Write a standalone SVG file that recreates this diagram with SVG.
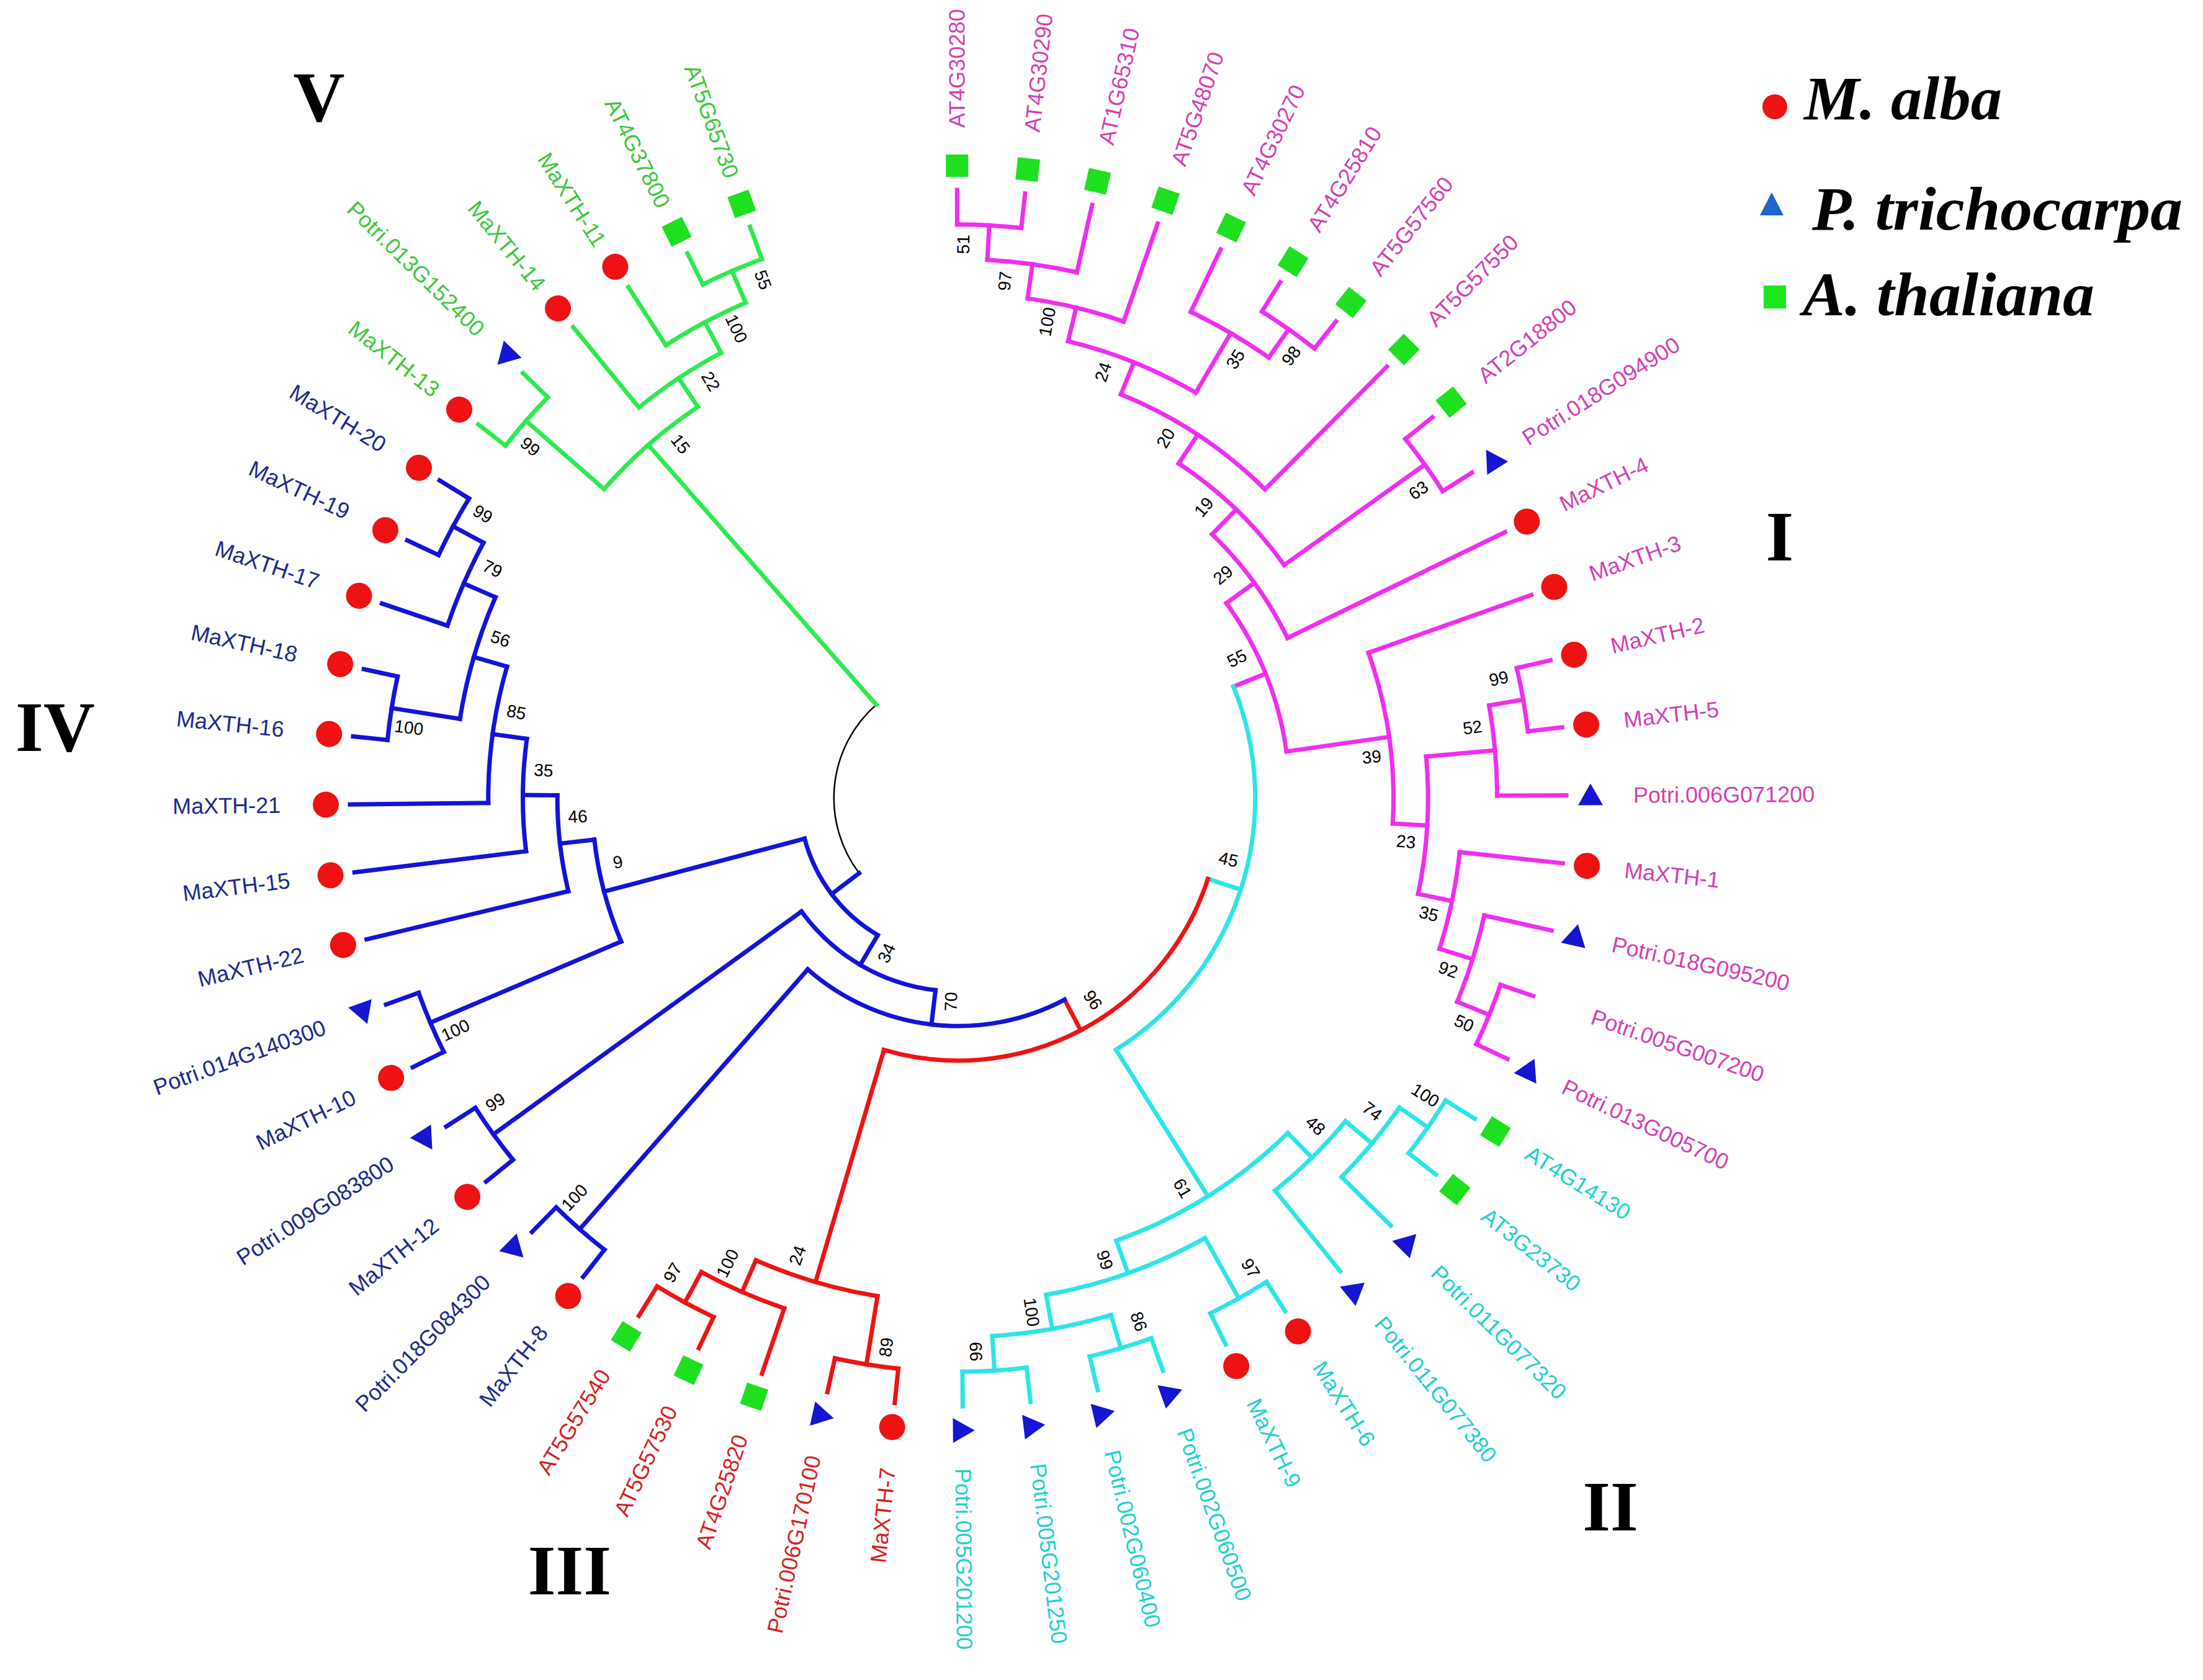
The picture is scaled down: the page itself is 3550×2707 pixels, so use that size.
<svg xmlns="http://www.w3.org/2000/svg" width="3550" height="2707" viewBox="0 0 3550 2707">
<style>
.br{fill:none;stroke-width:7;stroke-linecap:square}
.rt{fill:none;stroke:#000;stroke-width:2.5}
.sI{stroke:#F02EF0}.sII{stroke:#2EE5E5}.sIII{stroke:#EE1414}.sIV{stroke:#1313D9}.sV{stroke:#2EEA50}
.tl{font-family:"Liberation Sans",Arial,sans-serif;font-size:36px;dominant-baseline:central}
.r{text-anchor:end}
.cI{fill:#D43FB0}.cII{fill:#1FCFCF}.cIII{fill:#D61F1F}.cIV{fill:#1C2A8C}.cV{fill:#3CC83C}
.ci{fill:#EE1212}.tr{fill:#1515D2}.sq{fill:#1EE01E}
.bs{font-family:"Liberation Sans",Arial,sans-serif;font-size:28px;fill:#000;text-anchor:middle;dominant-baseline:central}
.rn{font-family:"Liberation Serif","Times New Roman",serif;font-weight:bold;font-size:115px;fill:#000;text-anchor:middle}
.lg{font-family:"Liberation Serif","Times New Roman",serif;font-weight:bold;font-style:italic;font-size:100px;fill:#000}
</style>
<rect width="3550" height="2707" fill="#fff"/>
<g id="tree" transform="translate(1544,1286)">
<g id="connectors">
<circle class="rt" r="200.2" stroke-dasharray="300.19 9999" transform="rotate(142.82)"/>
<g class="br sI">
<line x1="924.3" x2="980" transform="rotate(-90.10)"/>
<line x1="924.3" x2="980" transform="rotate(-83.68)"/>
<line x1="868.6" x2="980" transform="rotate(-77.27)"/>
<line x1="812.9" x2="980" transform="rotate(-70.85)"/>
<line x1="868.6" x2="980" transform="rotate(-64.43)"/>
<line x1="924.3" x2="980" transform="rotate(-58.02)"/>
<line x1="924.3" x2="980" transform="rotate(-51.60)"/>
<line x1="701.5" x2="980" transform="rotate(-45.18)"/>
<line x1="924.3" x2="980" transform="rotate(-38.76)"/>
<line x1="924.3" x2="980" transform="rotate(-32.35)"/>
<line x1="590.1" x2="980" transform="rotate(-25.93)"/>
<line x1="701.5" x2="980" transform="rotate(-19.51)"/>
<line x1="924.3" x2="980" transform="rotate(-13.10)"/>
<line x1="924.3" x2="980" transform="rotate(-6.68)"/>
<line x1="868.6" x2="980" transform="rotate(-0.26)"/>
<line x1="812.9" x2="980" transform="rotate(6.15)"/>
<line x1="868.6" x2="980" transform="rotate(12.57)"/>
<line x1="924.3" x2="980" transform="rotate(18.99)"/>
<line x1="924.3" x2="980" transform="rotate(25.40)"/>
<line x1="868.6" x2="924.3" transform="rotate(-86.89)"/>
<line x1="812.9" x2="868.6" transform="rotate(-82.08)"/>
<line x1="757.2" x2="812.9" transform="rotate(-76.465)"/>
<line x1="868.6" x2="924.3" transform="rotate(-54.81)"/>
<line x1="757.2" x2="868.6" transform="rotate(-59.62)"/>
<line x1="701.5" x2="757.2" transform="rotate(-68.04)"/>
<line x1="645.8" x2="701.5" transform="rotate(-56.61)"/>
<line x1="645.8" x2="924.3" transform="rotate(-35.555)"/>
<line x1="590.1" x2="645.8" transform="rotate(-46.08)"/>
<line x1="534.4" x2="590.1" transform="rotate(-36.005)"/>
<line x1="868.6" x2="924.3" transform="rotate(-9.89)"/>
<line x1="757.2" x2="868.6" transform="rotate(-5.075)"/>
<line x1="868.6" x2="924.3" transform="rotate(22.195)"/>
<line x1="812.9" x2="868.6" transform="rotate(17.38)"/>
<line x1="757.2" x2="812.9" transform="rotate(11.765)"/>
<line x1="701.5" x2="757.2" transform="rotate(3.345)"/>
<line x1="534.4" x2="701.5" transform="rotate(-8.08)"/>
<line x1="478.7" x2="534.4" transform="rotate(-22.04)"/>
<circle r="924.3" stroke-dasharray="103.57 9999" transform="rotate(-90.10)"/>
<circle r="868.6" stroke-dasharray="145.84 9999" transform="rotate(-86.89)"/>
<circle r="812.9" stroke-dasharray="159.33 9999" transform="rotate(-82.08)"/>
<circle r="924.3" stroke-dasharray="103.57 9999" transform="rotate(-58.02)"/>
<circle r="868.6" stroke-dasharray="145.84 9999" transform="rotate(-64.43)"/>
<circle r="757.2" stroke-dasharray="222.62 9999" transform="rotate(-76.465)"/>
<circle r="701.5" stroke-dasharray="279.87 9999" transform="rotate(-68.04)"/>
<circle r="924.3" stroke-dasharray="103.41 9999" transform="rotate(-38.76)"/>
<circle r="645.8" stroke-dasharray="237.31 9999" transform="rotate(-56.61)"/>
<circle r="590.1" stroke-dasharray="207.52 9999" transform="rotate(-46.08)"/>
<circle r="924.3" stroke-dasharray="103.57 9999" transform="rotate(-13.10)"/>
<circle r="868.6" stroke-dasharray="145.99 9999" transform="rotate(-9.89)"/>
<circle r="924.3" stroke-dasharray="103.41 9999" transform="rotate(18.99)"/>
<circle r="868.6" stroke-dasharray="145.92 9999" transform="rotate(12.57)"/>
<circle r="812.9" stroke-dasharray="159.33 9999" transform="rotate(6.15)"/>
<circle r="757.2" stroke-dasharray="222.56 9999" transform="rotate(-5.075)"/>
<circle r="701.5" stroke-dasharray="279.81 9999" transform="rotate(-19.51)"/>
<circle r="534.4" stroke-dasharray="260.46 9999" transform="rotate(-36.005)"/>
</g>
<g class="br sII">
<line x1="924.3" x2="980" transform="rotate(31.82)"/>
<line x1="924.3" x2="980" transform="rotate(38.24)"/>
<line x1="868.6" x2="980" transform="rotate(44.65)"/>
<line x1="812.9" x2="980" transform="rotate(51.07)"/>
<line x1="924.3" x2="980" transform="rotate(57.49)"/>
<line x1="924.3" x2="980" transform="rotate(63.91)"/>
<line x1="924.3" x2="980" transform="rotate(70.32)"/>
<line x1="924.3" x2="980" transform="rotate(76.74)"/>
<line x1="924.3" x2="980" transform="rotate(83.16)"/>
<line x1="924.3" x2="980" transform="rotate(89.57)"/>
<line x1="868.6" x2="924.3" transform="rotate(35.03)"/>
<line x1="812.9" x2="868.6" transform="rotate(39.84)"/>
<line x1="757.2" x2="812.9" transform="rotate(45.455)"/>
<line x1="812.9" x2="924.3" transform="rotate(60.70)"/>
<line x1="868.6" x2="924.3" transform="rotate(73.53)"/>
<line x1="868.6" x2="924.3" transform="rotate(86.365)"/>
<line x1="812.9" x2="868.6" transform="rotate(79.95)"/>
<line x1="757.2" x2="812.9" transform="rotate(70.325)"/>
<line x1="478.7" x2="757.2" transform="rotate(57.89)"/>
<line x1="423" x2="478.7" transform="rotate(17.925)"/>
<circle r="924.3" stroke-dasharray="103.57 9999" transform="rotate(31.82)"/>
<circle r="868.6" stroke-dasharray="145.84 9999" transform="rotate(35.03)"/>
<circle r="812.9" stroke-dasharray="159.33 9999" transform="rotate(39.84)"/>
<circle r="924.3" stroke-dasharray="103.57 9999" transform="rotate(57.49)"/>
<circle r="924.3" stroke-dasharray="103.57 9999" transform="rotate(70.32)"/>
<circle r="924.3" stroke-dasharray="103.41 9999" transform="rotate(83.16)"/>
<circle r="868.6" stroke-dasharray="194.58 9999" transform="rotate(73.53)"/>
<circle r="812.9" stroke-dasharray="273.12 9999" transform="rotate(60.70)"/>
<circle r="757.2" stroke-dasharray="328.68 9999" transform="rotate(45.455)"/>
<circle r="478.7" stroke-dasharray="667.81 9999" transform="rotate(-22.04)"/>
</g>
<g class="br sIII">
<line x1="924.3" x2="980" transform="rotate(95.99)"/>
<line x1="924.3" x2="980" transform="rotate(102.41)"/>
<line x1="868.6" x2="980" transform="rotate(108.82)"/>
<line x1="924.3" x2="980" transform="rotate(115.24)"/>
<line x1="924.3" x2="980" transform="rotate(121.66)"/>
<line x1="812.9" x2="924.3" transform="rotate(99.20)"/>
<line x1="868.6" x2="924.3" transform="rotate(118.45)"/>
<line x1="812.9" x2="868.6" transform="rotate(113.635)"/>
<line x1="423" x2="812.9" transform="rotate(106.42)"/>
<line x1="367.3" x2="423" transform="rotate(62.17)"/>
<circle r="924.3" stroke-dasharray="103.57 9999" transform="rotate(95.99)"/>
<circle r="924.3" stroke-dasharray="103.57 9999" transform="rotate(115.24)"/>
<circle r="868.6" stroke-dasharray="145.99 9999" transform="rotate(108.82)"/>
<circle r="812.9" stroke-dasharray="204.80 9999" transform="rotate(99.20)"/>
<circle r="423" stroke-dasharray="653.36 9999" transform="rotate(17.925)"/>
</g>
<g class="br sIV">
<line x1="924.3" x2="980" transform="rotate(128.07)"/>
<line x1="924.3" x2="980" transform="rotate(134.49)"/>
<line x1="924.3" x2="980" transform="rotate(140.91)"/>
<line x1="924.3" x2="980" transform="rotate(147.32)"/>
<line x1="924.3" x2="980" transform="rotate(153.74)"/>
<line x1="924.3" x2="980" transform="rotate(160.16)"/>
<line x1="645.8" x2="980" transform="rotate(166.57)"/>
<line x1="701.5" x2="980" transform="rotate(172.99)"/>
<line x1="757.2" x2="980" transform="rotate(179.41)"/>
<line x1="924.3" x2="980" transform="rotate(185.82)"/>
<line x1="924.3" x2="980" transform="rotate(192.24)"/>
<line x1="868.6" x2="980" transform="rotate(198.66)"/>
<line x1="924.3" x2="980" transform="rotate(205.07)"/>
<line x1="924.3" x2="980" transform="rotate(211.49)"/>
<line x1="367.3" x2="924.3" transform="rotate(131.28)"/>
<line x1="311.6" x2="367.3" transform="rotate(96.725)"/>
<line x1="311.6" x2="924.3" transform="rotate(144.115)"/>
<line x1="255.9" x2="311.6" transform="rotate(120.42)"/>
<line x1="590.1" x2="924.3" transform="rotate(156.95)"/>
<line x1="812.9" x2="924.3" transform="rotate(189.03)"/>
<line x1="868.6" x2="924.3" transform="rotate(208.28)"/>
<line x1="812.9" x2="868.6" transform="rotate(203.47)"/>
<line x1="757.2" x2="812.9" transform="rotate(196.25)"/>
<line x1="701.5" x2="757.2" transform="rotate(187.83)"/>
<line x1="645.8" x2="701.5" transform="rotate(180.41)"/>
<line x1="590.1" x2="645.8" transform="rotate(173.49)"/>
<line x1="255.9" x2="590.1" transform="rotate(165.22)"/>
<line x1="200.2" x2="255.9" transform="rotate(142.82)"/>
<circle r="924.3" stroke-dasharray="103.57 9999" transform="rotate(128.07)"/>
<circle r="367.3" stroke-dasharray="443.06 9999" transform="rotate(62.17)"/>
<circle r="924.3" stroke-dasharray="103.41 9999" transform="rotate(140.91)"/>
<circle r="311.6" stroke-dasharray="257.71 9999" transform="rotate(96.725)"/>
<circle r="924.3" stroke-dasharray="103.57 9999" transform="rotate(153.74)"/>
<circle r="924.3" stroke-dasharray="103.57 9999" transform="rotate(185.82)"/>
<circle r="924.3" stroke-dasharray="103.57 9999" transform="rotate(205.07)"/>
<circle r="868.6" stroke-dasharray="145.84 9999" transform="rotate(198.66)"/>
<circle r="812.9" stroke-dasharray="204.87 9999" transform="rotate(189.03)"/>
<circle r="757.2" stroke-dasharray="222.56 9999" transform="rotate(179.41)"/>
<circle r="701.5" stroke-dasharray="181.69 9999" transform="rotate(172.99)"/>
<circle r="645.8" stroke-dasharray="155.99 9999" transform="rotate(166.57)"/>
<circle r="590.1" stroke-dasharray="170.35 9999" transform="rotate(156.95)"/>
<circle r="255.9" stroke-dasharray="200.08 9999" transform="rotate(120.42)"/>
</g>
<g class="br sV">
<line x1="924.3" x2="980" transform="rotate(217.91)"/>
<line x1="924.3" x2="980" transform="rotate(224.32)"/>
<line x1="812.9" x2="980" transform="rotate(230.74)"/>
<line x1="868.6" x2="980" transform="rotate(237.16)"/>
<line x1="924.3" x2="980" transform="rotate(243.57)"/>
<line x1="924.3" x2="980" transform="rotate(249.99)"/>
<line x1="757.2" x2="924.3" transform="rotate(221.115)"/>
<line x1="868.6" x2="924.3" transform="rotate(246.78)"/>
<line x1="812.9" x2="868.6" transform="rotate(241.97)"/>
<line x1="757.2" x2="812.9" transform="rotate(236.355)"/>
<line x1="200.2" x2="757.2" transform="rotate(228.735)"/>
<circle r="924.3" stroke-dasharray="103.41 9999" transform="rotate(217.91)"/>
<circle r="924.3" stroke-dasharray="103.57 9999" transform="rotate(243.57)"/>
<circle r="868.6" stroke-dasharray="145.84 9999" transform="rotate(237.16)"/>
<circle r="812.9" stroke-dasharray="159.33 9999" transform="rotate(230.74)"/>
<circle r="757.2" stroke-dasharray="201.41 9999" transform="rotate(221.115)"/>
</g>
</g>
<g id="bootstrap">
<text class="bs" transform="rotate(-89.46) translate(892.3,0)">51</text>
<text class="bs" transform="rotate(-84.82) translate(836.6,0)">97</text>
<text class="bs" transform="rotate(-79.40) translate(780.9,0)">100</text>
<text class="bs" transform="rotate(-53.01) translate(892.3,0)">98</text>
<text class="bs" transform="rotate(-57.70) translate(836.6,0)">35</text>
<text class="bs" transform="rotate(-71.20) translate(725.2,0)">24</text>
<text class="bs" transform="rotate(-60.03) translate(669.5,0)">20</text>
<text class="bs" transform="rotate(-33.76) translate(892.3,0)">63</text>
<text class="bs" transform="rotate(-49.81) translate(613.8,0)">19</text>
<text class="bs" transform="rotate(-40.11) translate(558.1,0)">29</text>
<text class="bs" transform="rotate(-12.46) translate(892.3,0)">99</text>
<text class="bs" transform="rotate(-7.81) translate(836.6,0)">52</text>
<text class="bs" transform="rotate(23.99) translate(892.3,0)">50</text>
<text class="bs" transform="rotate(19.30) translate(836.6,0)">92</text>
<text class="bs" transform="rotate(13.82) translate(780.9,0)">35</text>
<text class="bs" transform="rotate(5.56) translate(725.2,0)">23</text>
<text class="bs" transform="rotate(-5.68) translate(669.5,0)">39</text>
<text class="bs" transform="rotate(-26.60) translate(502.4,0)">55</text>
<text class="bs" transform="rotate(32.46) translate(892.3,0)">100</text>
<text class="bs" transform="rotate(37.10) translate(836.6,0)">74</text>
<text class="bs" transform="rotate(42.52) translate(780.9,0)">48</text>
<text class="bs" transform="rotate(58.13) translate(892.3,0)">97</text>
<text class="bs" transform="rotate(70.96) translate(892.3,0)">86</text>
<text class="bs" transform="rotate(88.17) translate(892.3,0)">66</text>
<text class="bs" transform="rotate(81.87) translate(836.6,0)">100</text>
<text class="bs" transform="rotate(72.38) translate(780.9,0)">99</text>
<text class="bs" transform="rotate(60.10) translate(725.2,0)">61</text>
<text class="bs" transform="rotate(12.80) translate(446.7,0)">45</text>
<text class="bs" transform="rotate(56.31) translate(391,0)">96</text>
<text class="bs" transform="rotate(97.47) translate(892.3,0) rotate(180)">89</text>
<text class="bs" transform="rotate(121.02) translate(892.3,0) rotate(180)">97</text>
<text class="bs" transform="rotate(116.37) translate(836.6,0) rotate(180)">100</text>
<text class="bs" transform="rotate(109.35) translate(780.9,0) rotate(180)">24</text>
<text class="bs" transform="rotate(92.0) translate(328,0) rotate(180)">70</text>
<text class="bs" transform="rotate(114.8) translate(275,0) rotate(180)">34</text>
<text class="bs" transform="rotate(133.85) translate(892.3,0) rotate(180)">100</text>
<text class="bs" transform="rotate(146.68) translate(892.3,0) rotate(180)">99</text>
<text class="bs" transform="rotate(155.22) translate(892.3,0) rotate(180)">100</text>
<text class="bs" transform="rotate(187.30) translate(892.3,0) rotate(180)">100</text>
<text class="bs" transform="rotate(210.85) translate(892.3,0) rotate(180)">99</text>
<text class="bs" transform="rotate(206.21) translate(836.6,0) rotate(180)">79</text>
<text class="bs" transform="rotate(199.18) translate(780.9,0) rotate(180)">56</text>
<text class="bs" transform="rotate(190.99) translate(725.2,0) rotate(180)">85</text>
<text class="bs" transform="rotate(183.83) translate(669.5,0) rotate(180)">35</text>
<text class="bs" transform="rotate(177.22) translate(613.8,0) rotate(180)">46</text>
<text class="bs" transform="rotate(169.33) translate(558.1,0) rotate(180)">9</text>
<text class="bs" transform="rotate(219.38) translate(892.3,0) rotate(180)">99</text>
<text class="bs" transform="rotate(249.35) translate(892.3,0) rotate(180)">55</text>
<text class="bs" transform="rotate(244.71) translate(836.6,0) rotate(180)">100</text>
<text class="bs" transform="rotate(239.29) translate(780.9,0) rotate(180)">22</text>
<text class="bs" transform="rotate(231.90) translate(725.2,0) rotate(180)">15</text>
</g>
<g id="tips">
<g id="t01" transform="rotate(-90.10)"><rect class="sq" x="1001" y="-18" width="36" height="36"/><text class="tl cI" x="1080">AT4G30280</text></g>
<g id="t02" transform="rotate(-83.68)"><rect class="sq" x="1001" y="-18" width="36" height="36"/><text class="tl cI" x="1080">AT4G30290</text></g>
<g id="t03" transform="rotate(-77.27)"><rect class="sq" x="1001" y="-18" width="36" height="36"/><text class="tl cI" x="1080">AT1G65310</text></g>
<g id="t04" transform="rotate(-70.85)"><rect class="sq" x="1001" y="-18" width="36" height="36"/><text class="tl cI" x="1080">AT5G48070</text></g>
<g id="t05" transform="rotate(-64.43)"><rect class="sq" x="1001" y="-18" width="36" height="36"/><text class="tl cI" x="1080">AT4G30270</text></g>
<g id="t06" transform="rotate(-58.02)"><rect class="sq" x="1001" y="-18" width="36" height="36"/><text class="tl cI" x="1080">AT4G25810</text></g>
<g id="t07" transform="rotate(-51.60)"><rect class="sq" x="1001" y="-18" width="36" height="36"/><text class="tl cI" x="1080">AT5G57560</text></g>
<g id="t08" transform="rotate(-45.18)"><rect class="sq" x="1001" y="-18" width="36" height="36"/><text class="tl cI" x="1080">AT5G57550</text></g>
<g id="t09" transform="rotate(-38.76)"><rect class="sq" x="1001" y="-18" width="36" height="36"/><text class="tl cI" x="1080">AT2G18800</text></g>
<g id="t10" transform="rotate(-32.35)"><polygon class="tr" points="1019,-19 999,16 1039,16"/><text class="tl cI" x="1080">Potri.018G094900</text></g>
<g id="t11" transform="rotate(-25.93)"><circle class="ci" cx="1019" r="21"/><text class="tl cI" x="1080">MaXTH-4</text></g>
<g id="t12" transform="rotate(-19.51)"><circle class="ci" cx="1019" r="21"/><text class="tl cI" x="1080">MaXTH-3</text></g>
<g id="t13" transform="rotate(-13.10)"><circle class="ci" cx="1019" r="21"/><text class="tl cI" x="1080">MaXTH-2</text></g>
<g id="t14" transform="rotate(-6.68)"><circle class="ci" cx="1019" r="21"/><text class="tl cI" x="1080">MaXTH-5</text></g>
<g id="t15" transform="rotate(-0.26)"><polygon class="tr" points="1019,-19 999,16 1039,16"/><text class="tl cI" x="1088">Potri.006G071200</text></g>
<g id="t16" transform="rotate(6.15)"><circle class="ci" cx="1019" r="21"/><text class="tl cI" x="1080">MaXTH-1</text></g>
<g id="t17" transform="rotate(12.57)"><polygon class="tr" points="1019,-19 999,16 1039,16"/><text class="tl cI" x="1080">Potri.018G095200</text></g>
<g id="t18" transform="rotate(18.99)"><text class="tl cI" x="1080">Potri.005G007200</text></g>
<g id="t19" transform="rotate(25.40)"><polygon class="tr" points="1019,-19 999,16 1039,16"/><text class="tl cI" x="1080">Potri.013G005700</text></g>
<g id="t20" transform="rotate(31.82)"><rect class="sq" x="1001" y="-18" width="36" height="36"/><text class="tl cII" x="1080">AT4G14130</text></g>
<g id="t21" transform="rotate(38.24)"><rect class="sq" x="1001" y="-18" width="36" height="36"/><text class="tl cII" x="1080">AT3G23730</text></g>
<g id="t22" transform="rotate(44.65)"><polygon class="tr" points="1019,-19 999,16 1039,16"/><text class="tl cII" x="1080">Potri.011G077320</text></g>
<g id="t23" transform="rotate(51.07)"><polygon class="tr" points="1019,-19 999,16 1039,16"/><text class="tl cII" x="1080">Potri.011G077380</text></g>
<g id="t24" transform="rotate(57.49)"><circle class="ci" cx="1019" r="21"/><text class="tl cII" x="1080">MaXTH-6</text></g>
<g id="t25" transform="rotate(63.91)"><circle class="ci" cx="1019" r="21"/><text class="tl cII" x="1080">MaXTH-9</text></g>
<g id="t26" transform="rotate(70.32)"><polygon class="tr" points="1019,-19 999,16 1039,16"/><text class="tl cII" x="1080">Potri.002G060500</text></g>
<g id="t27" transform="rotate(76.74)"><polygon class="tr" points="1019,-19 999,16 1039,16"/><text class="tl cII" x="1080">Potri.002G060400</text></g>
<g id="t28" transform="rotate(83.16)"><polygon class="tr" points="1019,-19 999,16 1039,16"/><text class="tl cII" x="1080">Potri.005G201250</text></g>
<g id="t29" transform="rotate(89.57)"><polygon class="tr" points="1019,-19 999,16 1039,16"/><text class="tl cII" x="1080">Potri.005G201200</text></g>
<g id="t30" transform="rotate(95.99)"><circle class="ci" cx="1019" r="21"/><text class="tl cIII r" transform="translate(1085,0) rotate(180)">MaXTH-7</text></g>
<g id="t31" transform="rotate(102.41)"><polygon class="tr" points="1019,-19 999,16 1039,16"/><text class="tl cIII r" transform="translate(1085,0) rotate(180)">Potri.006G170100</text></g>
<g id="t32" transform="rotate(108.82)"><rect class="sq" x="1001" y="-18" width="36" height="36"/><text class="tl cIII r" transform="translate(1085,0) rotate(180)">AT4G25820</text></g>
<g id="t33" transform="rotate(115.24)"><rect class="sq" x="1001" y="-18" width="36" height="36"/><text class="tl cIII r" transform="translate(1085,0) rotate(180)">AT5G57530</text></g>
<g id="t34" transform="rotate(121.66)"><rect class="sq" x="1001" y="-18" width="36" height="36"/><text class="tl cIII r" transform="translate(1085,0) rotate(180)">AT5G57540</text></g>
<g id="t35" transform="rotate(128.07)"><circle class="ci" cx="1019" r="21"/><text class="tl cIV r" transform="translate(1085,0) rotate(180)">MaXTH-8</text></g>
<g id="t36" transform="rotate(134.49)"><polygon class="tr" points="1019,-19 999,16 1039,16"/><text class="tl cIV r" transform="translate(1085,0) rotate(180)">Potri.018G084300</text></g>
<g id="t37" transform="rotate(140.91)"><circle class="ci" cx="1019" r="21"/><text class="tl cIV r" transform="translate(1085,0) rotate(180)">MaXTH-12</text></g>
<g id="t38" transform="rotate(147.32)"><polygon class="tr" points="1019,-19 999,16 1039,16"/><text class="tl cIV r" transform="translate(1085,0) rotate(180)">Potri.009G083800</text></g>
<g id="t39" transform="rotate(153.74)"><circle class="ci" cx="1019" r="21"/><text class="tl cIV r" transform="translate(1085,0) rotate(180)">MaXTH-10</text></g>
<g id="t40" transform="rotate(160.16)"><polygon class="tr" points="1019,-19 999,16 1039,16"/><text class="tl cIV r" transform="translate(1085,0) rotate(180)">Potri.014G140300</text></g>
<g id="t41" transform="rotate(166.57)"><circle class="ci" cx="1019" r="21"/><text class="tl cIV r" transform="translate(1085,0) rotate(180)">MaXTH-22</text></g>
<g id="t42" transform="rotate(172.99)"><circle class="ci" cx="1019" r="21"/><text class="tl cIV r" transform="translate(1085,0) rotate(180)">MaXTH-15</text></g>
<g id="t43" transform="rotate(179.41)"><circle class="ci" cx="1019" r="21"/><text class="tl cIV r" transform="translate(1092,0) rotate(180)">MaXTH-21</text></g>
<g id="t44" transform="rotate(185.82)"><circle class="ci" cx="1019" r="21"/><text class="tl cIV r" transform="translate(1092,0) rotate(180)">MaXTH-16</text></g>
<g id="t45" transform="rotate(192.24)"><circle class="ci" cx="1019" r="21"/><text class="tl cIV r" transform="translate(1090,0) rotate(180)">MaXTH-18</text></g>
<g id="t46" transform="rotate(198.66)"><circle class="ci" cx="1019" r="21"/><text class="tl cIV r" transform="translate(1088,0) rotate(180)">MaXTH-17</text></g>
<g id="t47" transform="rotate(205.07)"><circle class="ci" cx="1019" r="21"/><text class="tl cIV r" transform="translate(1085,0) rotate(180)">MaXTH-19</text></g>
<g id="t48" transform="rotate(211.49)"><circle class="ci" cx="1019" r="21"/><text class="tl cIV r" transform="translate(1085,0) rotate(180)">MaXTH-20</text></g>
<g id="t49" transform="rotate(217.91)"><circle class="ci" cx="1019" r="21"/><text class="tl cV r" transform="translate(1065,0) rotate(180)">MaXTH-13</text></g>
<g id="t50" transform="rotate(224.32)"><polygon class="tr" points="1019,-19 999,16 1039,16"/><text class="tl cV r" transform="translate(1075,0) rotate(180)">Potri.013G152400</text></g>
<g id="t51" transform="rotate(230.74)"><circle class="ci" cx="1019" r="21"/><text class="tl cV r" transform="translate(1062,0) rotate(180)">MaXTH-14</text></g>
<g id="t52" transform="rotate(237.16)"><circle class="ci" cx="1019" r="21"/><text class="tl cV r" transform="translate(1062,0) rotate(180)">MaXTH-11</text></g>
<g id="t53" transform="rotate(243.57)"><rect class="sq" x="1001" y="-18" width="36" height="36"/><text class="tl cV r" transform="translate(1065,0) rotate(180)">AT4G37800</text></g>
<g id="t54" transform="rotate(249.99)"><rect class="sq" x="1001" y="-18" width="36" height="36"/><text class="tl cV r" transform="translate(1065,0) rotate(180)">AT5G65730</text></g>
</g>
</g>
<g id="clades">
<text class="rn" x="2868" y="903">I</text>
<text class="rn" x="2595" y="2466">II</text>
<text class="rn" x="918" y="2569">III</text>
<text class="rn" x="89" y="1210">IV</text>
<text class="rn" x="514" y="195">V</text>
</g>
<g id="legend">
<g id="lg-malba"><circle cx="2860" cy="172" r="20" fill="#EE1212"/><text class="lg" x="2907" y="192" textLength="319" lengthAdjust="spacingAndGlyphs">M. alba</text></g>
<g id="lg-ptri"><polygon points="2855,310 2836,347 2874,347" fill="#1F66CC"/><text class="lg" x="2920" y="370" textLength="597" lengthAdjust="spacingAndGlyphs">P. trichocarpa</text></g>
<g id="lg-atha"><rect x="2842" y="460" width="36" height="37" fill="#1EE61E"/><text class="lg" x="2905" y="508" textLength="470" lengthAdjust="spacingAndGlyphs">A. thaliana</text></g>
</g>
</svg>
